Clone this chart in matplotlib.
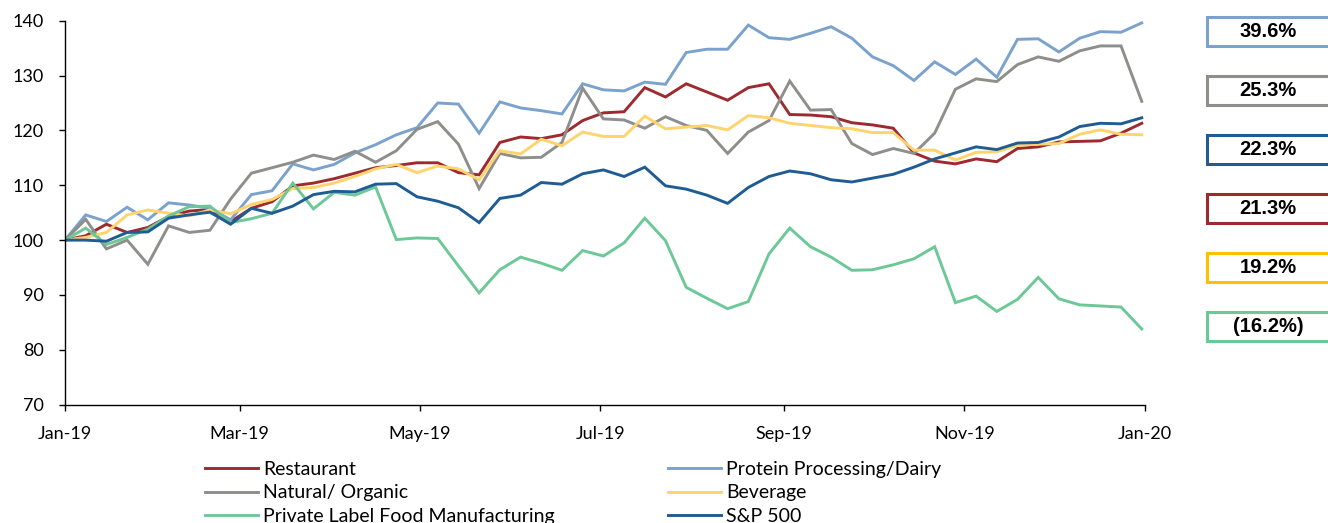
import matplotlib
matplotlib.use("Agg")
import matplotlib.pyplot as plt
import matplotlib.dates as mdates
from matplotlib.patches import Rectangle
from matplotlib.lines import Line2D
import pandas as pd

dates = pd.date_range("2019-01-01", periods=53, freq="7D")

restaurant = [100, 100.8, 102.9, 101.4, 102.3, 104.3, 105.3, 105.6, 103.4, 105.8,
              107.0, 109.9, 110.4, 111.2, 112.2, 113.2, 113.6, 114.1, 114.1, 112.3,
              111.9, 117.8, 118.8, 118.5, 119.2, 121.8, 123.2, 123.4, 127.8, 126.1,
              128.5, 127.0, 125.5, 127.8, 128.5, 122.9, 122.8, 122.5, 121.4, 121.0,
              120.4, 115.9, 114.4, 113.9, 114.8, 114.3, 116.7, 117.0, 117.9, 118.0,
              118.1, 119.5, 121.3]
protein = [100, 104.6, 103.4, 106.0, 103.7, 106.8, 106.4, 105.8, 103.7, 108.3,
           109.0, 113.9, 112.8, 113.8, 115.9, 117.4, 119.2, 120.5, 125.0, 124.8,
           119.5, 125.2, 124.1, 123.6, 123.0, 128.5, 127.4, 127.2, 128.8, 128.4,
           134.2, 134.8, 134.8, 139.2, 136.9, 136.6, 137.7, 138.9, 136.8, 133.4,
           131.8, 129.1, 132.5, 130.2, 133.0, 129.7, 136.6, 136.7, 134.3, 136.8,
           138.0, 137.9, 139.6]
natural = [100, 103.8, 98.4, 100.0, 95.6, 102.6, 101.4, 101.8, 107.5, 112.2,
           113.2, 114.2, 115.5, 114.7, 116.2, 114.2, 116.3, 120.2, 121.6, 117.5,
           109.4, 115.8, 115.0, 115.1, 117.8, 127.7, 122.1, 121.9, 120.4, 122.5,
           120.9, 120.0, 115.8, 119.7, 121.8, 129.0, 123.7, 123.8, 117.6, 115.6,
           116.7, 115.8, 119.5, 127.5, 129.4, 128.9, 132.0, 133.4, 132.6, 134.5,
           135.4, 135.4, 125.3]
beverage = [100, 100.5, 101.4, 104.6, 105.5, 104.9, 104.4, 105.5, 104.8, 106.5,
            107.4, 109.4, 109.6, 110.4, 111.6, 113.0, 113.8, 112.3, 113.5, 113.0,
            111.0, 116.3, 115.7, 118.4, 117.2, 119.7, 118.9, 118.9, 122.6, 120.3,
            120.6, 120.9, 120.1, 122.7, 122.3, 121.3, 120.9, 120.5, 120.3, 119.6,
            119.6, 116.4, 116.4, 114.6, 116.0, 116.1, 117.3, 117.5, 117.6, 119.3,
            120.1, 119.3, 119.2]
private_label = [100, 102.2, 99.2, 100.5, 102.0, 104.4, 106.1, 106.2, 103.2, 103.9,
                 104.9, 110.4, 105.7, 108.7, 108.2, 109.7, 100.1, 100.4, 100.3, 95.3,
                 90.4, 94.6, 96.9, 95.8, 94.5, 98.1, 97.1, 99.5, 104.0, 99.9,
                 91.4, 89.4, 87.5, 88.8, 97.5, 102.2, 98.8, 96.9, 94.5, 94.6,
                 95.5, 96.6, 98.8, 88.6, 89.8, 87.0, 89.2, 93.2, 89.3, 88.2,
                 88.0, 87.8, 83.8]
sp500 = [100, 100.0, 99.8, 101.4, 101.5, 104.0, 104.6, 105.1, 102.9, 105.8,
         104.9, 106.2, 108.3, 108.9, 108.8, 110.2, 110.3, 107.9, 107.1, 105.9,
         103.2, 107.6, 108.2, 110.5, 110.2, 112.1, 112.8, 111.6, 113.3, 109.9,
         109.3, 108.2, 106.7, 109.6, 111.6, 112.6, 112.1, 111.0, 110.6, 111.3,
         112.0, 113.3, 114.8, 115.9, 117.0, 116.5, 117.7, 117.8, 118.8, 120.7,
         121.3, 121.2, 122.3]

names = ["Restaurant", "Protein Processing/Dairy", "Natural/ Organic",
         "Beverage", "Private Label Food Manufacturing", "S&P 500"]
colors = {"Restaurant": "#9E2A2F",
          "Protein Processing/Dairy": "#7BA2CC",
          "Natural/ Organic": "#8E8E8A",
          "Beverage": "#FFD36E",
          "Private Label Food Manufacturing": "#6CC896",
          "S&P 500": "#1F5C94"}
series = {"Restaurant": restaurant,
          "Protein Processing/Dairy": protein,
          "Natural/ Organic": natural,
          "Beverage": beverage,
          "Private Label Food Manufacturing": private_label,
          "S&P 500": sp500}

box_labels = ["39.6%", "25.3%", "22.3%", "21.3%", "19.2%", "(16.2%)"]
box_series = ["Protein Processing/Dairy", "Natural/ Organic", "S&P 500",
              "Restaurant", "Beverage", "Private Label Food Manufacturing"]
box_border = {"Beverage": "#FFC000"}

tick_dates = pd.to_datetime(["2019-01-01", "2019-03-01", "2019-05-01", "2019-07-01",
                             "2019-09-01", "2019-11-01", "2020-01-01"])

W, H = 1328, 523
fig = plt.figure(figsize=(W / 100, H / 100), dpi=100)
ax = fig.add_axes([65 / W, 1 - 404.7 / H, (1144.7 - 65) / W, (404.7 - 20.7) / H])

for n in names:
    ax.plot(dates, series[n], color=colors[n], lw=2.1, solid_joinstyle="miter")

ax.set_ylim(70, 140)
ax.set_yticks(range(70, 141, 10))
ax.set_xlim(pd.Timestamp("2019-01-01"), pd.Timestamp("2020-01-01"))
ax.set_xticks(tick_dates)
ax.xaxis.set_major_formatter(mdates.DateFormatter("%b-%y"))
for s in ["top", "right"]:
    ax.spines[s].set_visible(False)
for s in ["left", "bottom"]:
    ax.spines[s].set_linewidth(1.0)
    ax.spines[s].set_color("black")
ax.tick_params(axis="both", direction="out", length=4.3, width=1.0, labelsize=13,
               colors="black")
ax.tick_params(axis="x", pad=11)
ax.tick_params(axis="y", pad=10.8)
for lab in ax.get_xticklabels() + ax.get_yticklabels():
    lab.set_family("Lato")

# legend (two columns)
col1 = ["Restaurant", "Natural/ Organic", "Private Label Food Manufacturing"]
col2 = ["Protein Processing/Dairy", "Beverage", "S&P 500"]
for col, x0 in [(col1, 205), (col2, 668)]:
    handles = [Line2D([], [], color=colors[n], lw=2.1) for n in col]
    leg = fig.legend(handles, col, loc="upper left",
                     bbox_to_anchor=(x0 / W, 1 - 461 / H),
                     frameon=False, handlelength=2.73, handletextpad=0.26,
                     labelspacing=0.33, borderpad=0, borderaxespad=0,
                     prop={"family": "Lato", "size": 14})

# right-side boxes
for i, (lab, sname) in enumerate(zip(box_labels, box_series)):
    yc = 31.5 + 59.0 * i
    ec = box_border.get(sname, colors[sname])
    rect = Rectangle((1207 / W, 1 - (yc + 14.5) / H), 140 / W, 29 / H,
                     transform=fig.transFigure, facecolor="white",
                     edgecolor=ec, lw=2.2, clip_on=False)
    fig.patches.append(rect)
    fig.text(1268 / W, 1 - yc / H, lab, ha="center", va="center",
             fontsize=14.5, fontweight="bold", family="Liberation Sans",
             color="black")

fig.savefig("out.png", dpi=100)
